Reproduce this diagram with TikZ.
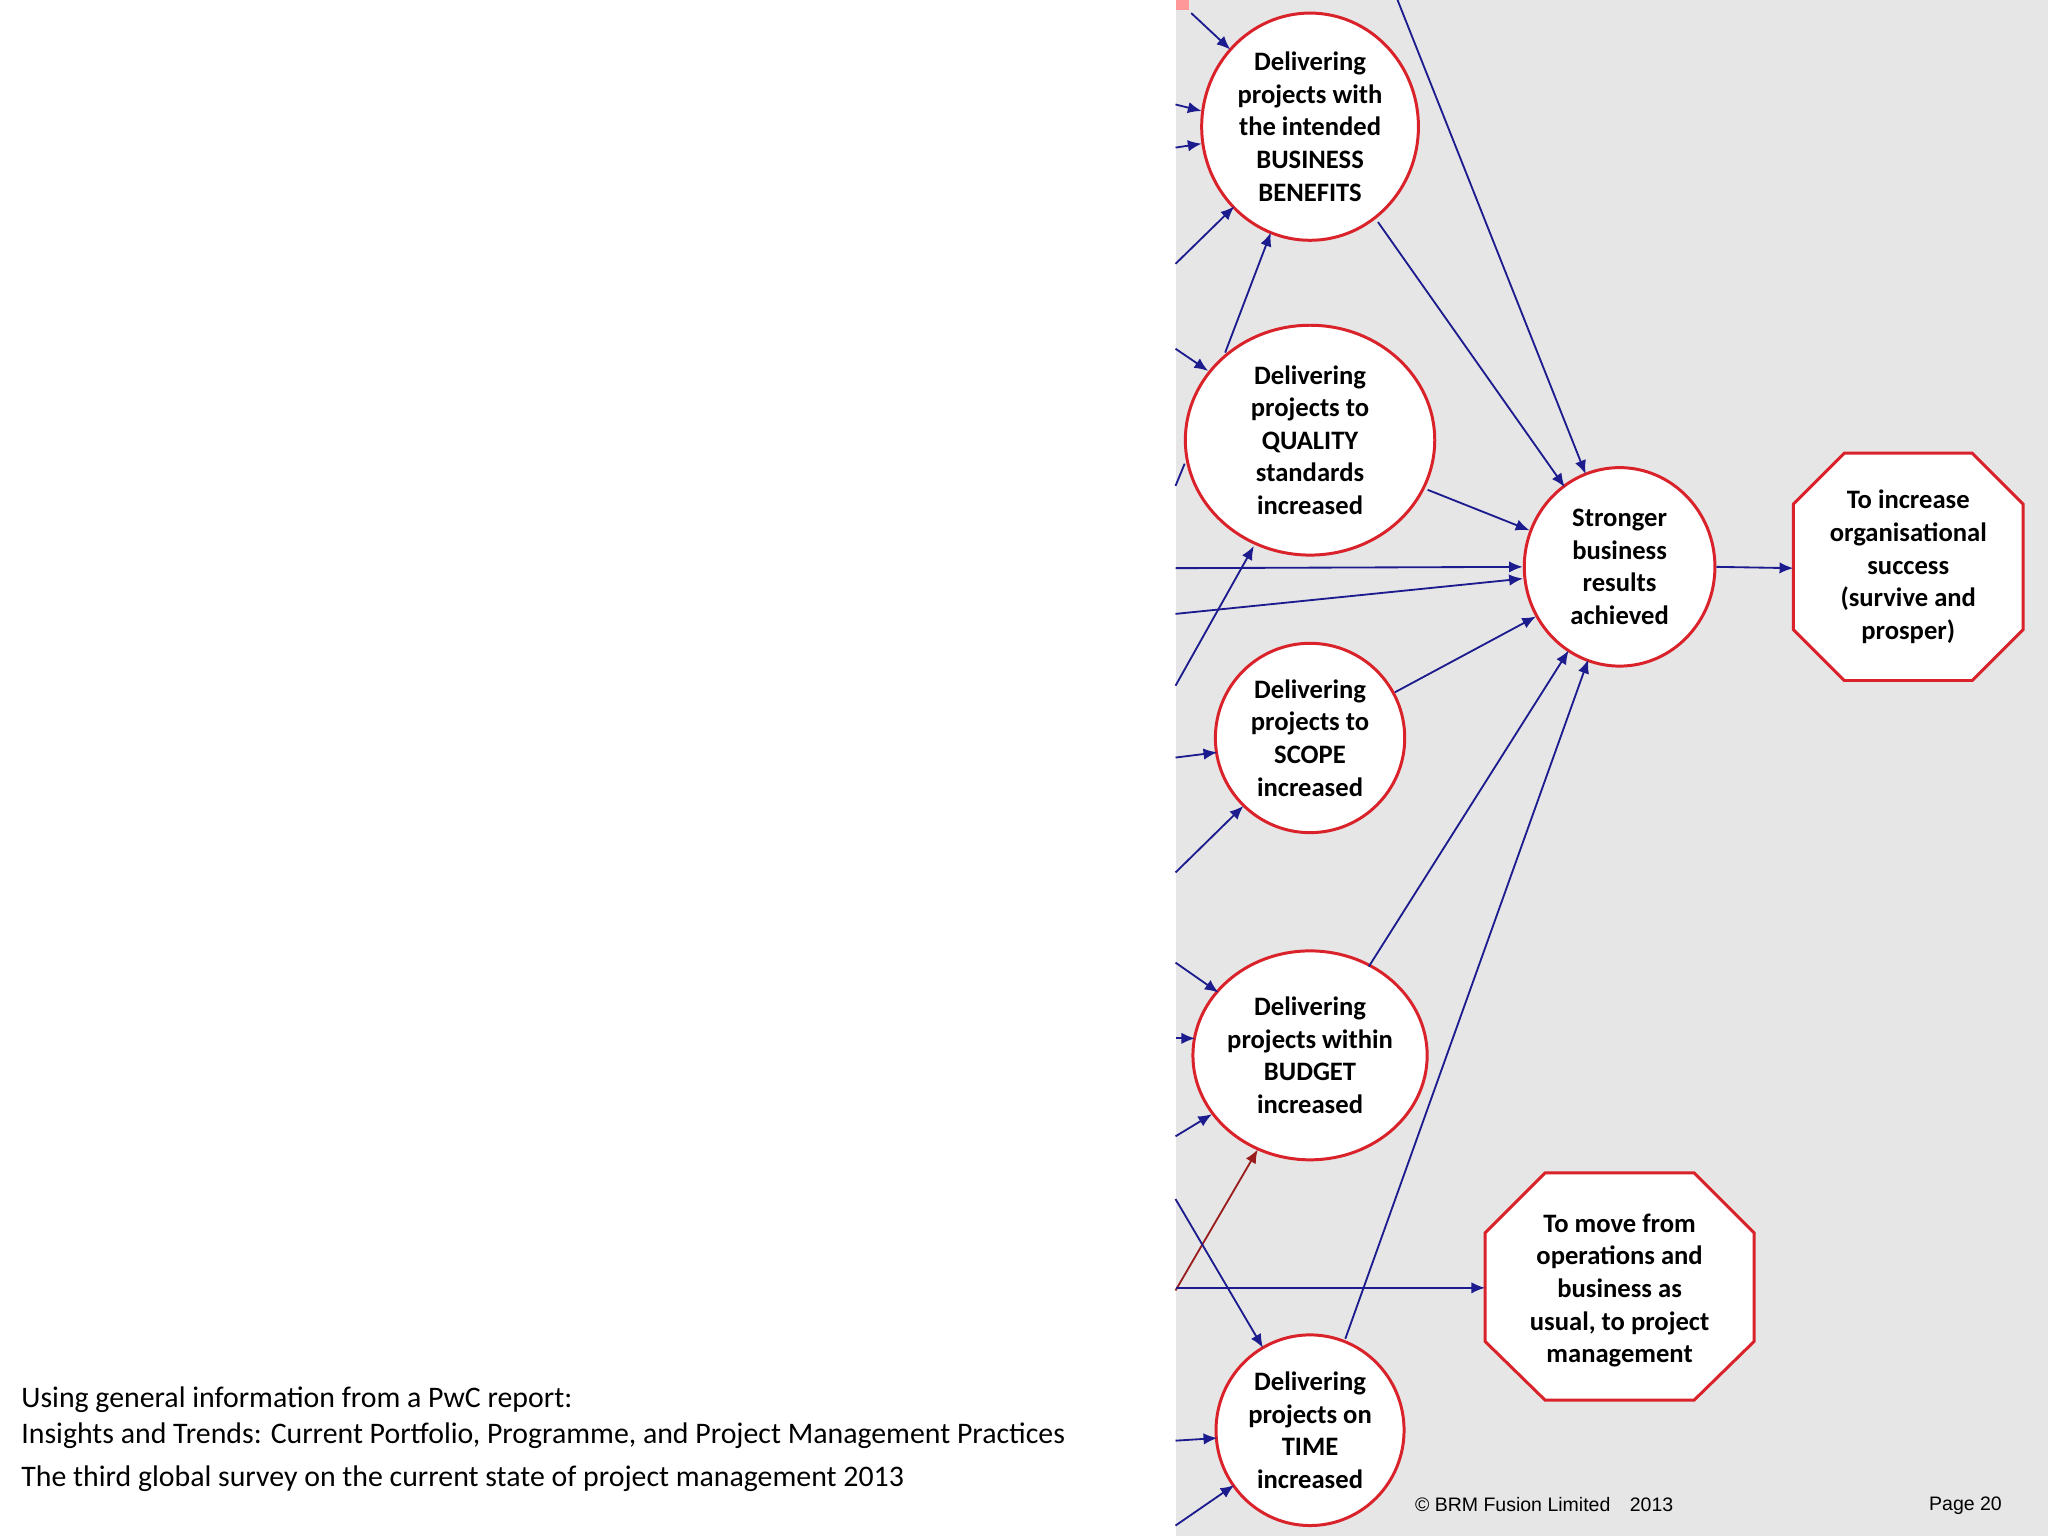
\documentclass[tikz,border=0pt]{standalone}
\usepackage{fontspec}
\setmainfont{Carlito}
\newfontfamily\arialf{Liberation Sans}
\usetikzlibrary{arrows.meta,shapes.geometric}
\definecolor{nav}{HTML}{1C1C8E}
\definecolor{dred}{HTML}{9A1E1E}
\definecolor{bord}{HTML}{D9222A}
\definecolor{panel}{HTML}{E6E6E6}
\tikzset{
 x=0.02cm,y=-0.02cm,
 circ/.style={ellipse,draw=bord,line width=1.3pt,fill=white,align=center,font=\bfseries\fontsize{11.6}{14.2}\selectfont,inner sep=0pt},
 oct/.style={draw=bord,line width=1.3pt,fill=white},
 octtext/.style={align=center,font=\bfseries\fontsize{11.6}{14.2}\selectfont},
 ar/.style={draw=nav,line width=0.8pt,-{Latex[length=6pt,width=5pt]}},
 arr/.style={draw=dred,line width=0.8pt,-{Latex[length=6pt,width=5pt]}},
}
\begin{document}
\begin{tikzpicture}
\useasboundingbox (0,0) rectangle (1568,1176);
\fill[white] (0,0) rectangle (1568,1176);
\fill[panel] (900,0) rectangle (1568,1176);
\fill[red!40] (900,0) rectangle (910,8);
\foreach \n/\x/\y in {a1/912/10,a2/900/80,a3/900/113,a4/900/202,a5/900/267,a6/900/435,a7/900/470,a8/900/525,a9/900/580,a10/900/668,a11/900/737,a12/900/795,a13/900/870,a14/900/988,a15/900/986,a16/900/918,a17/900/1103,a18/900/1168,a19/1070/0,a20/900/372,a21/907/355,
  e1/942/38,e2/920/85,e3/920/110,e4/945/158,e5/925/284,e8/960/418,e9/932/576,e10/952/617,e11/933/760,e12/915/795,e13/928/853,e14/963/880,e16/967/1032,e17/932/1101,e18/945/1137,
  s1/938/270,t1/973/178,s2/1055/170,t2/1198/373,s3/1093/375,t3/1171/406,s4/1068/530,t4/1176/472,s5/1048/740,t5/1201/498,s6/1030/1025,t6/1216/505,t19/1214/363,t7/1166/443}
  \coordinate (\n) at (\x,\y);
\path[oct] (1412,347)--(1510,347)--(1549,386)--(1549,482)--(1510,521)--(1412,521)--(1373,482)--(1373,386)--cycle;
\node[octtext] (O1) at (1461,434) {To increase\\organisational\\success\\(survive and\\prosper)};
\coordinate (O1w) at (1373,435);
\path[oct] (1183,898)--(1297,898)--(1343,944)--(1343,1027)--(1297,1072)--(1183,1072)--(1137,1027)--(1137,944)--cycle;
\node[octtext] (O2) at (1240,988) {To move from\\operations and\\business as\\usual, to project\\management};
\coordinate (O2w) at (1137,986);
\node[circ,minimum width=3.32cm,minimum height=3.48cm] (BBc) at (1003,97) {Delivering\\projects with\\the intended\\BUSINESS\\BENEFITS};
\node[circ,minimum width=3.82cm,minimum height=3.52cm] (Q) at (1003,337) {Delivering\\projects to\\QUALITY\\standards\\increased};
\node[circ,minimum width=2.9cm,minimum height=2.9cm] (S) at (1003,565) {Delivering\\projects to\\SCOPE\\increased};
\node[circ,minimum width=3.56cm,minimum height=3.2cm] (B) at (1003,808) {Delivering\\projects within\\BUDGET\\increased};
\node[circ,minimum width=2.88cm,minimum height=2.92cm] (T) at (1003,1095) {Delivering\\projects on\\TIME\\increased};
\node[circ,minimum width=2.92cm,minimum height=3.04cm] (R) at (1240,434) {Stronger\\business\\results\\achieved};
\draw[ar] (a1) -- (e1);
\draw[ar] (a2) -- (e2);
\draw[ar] (a3) -- (e3);
\draw[ar] (a4) -- (e4);
\draw[ar] (s1) -- (t1);
\draw[ar] (a5) -- (e5);
\draw[draw=nav,line width=0.8pt] (a20) -- (a21);
\draw[ar] (a6) -- (R.west);
\draw[ar] (a7) -- (t7);
\draw[ar] (a8) -- (e8);
\draw[ar] (a9) -- (e9);
\draw[ar] (a10) -- (e10);
\draw[ar] (a11) -- (e11);
\draw[ar] (a12) -- (e12);
\draw[ar] (a13) -- (e13);
\draw[arr] (a14) -- (e14);
\draw[ar] (a15) -- (O2w);
\draw[ar] (a16) -- (e16);
\draw[ar] (a17) -- (e17);
\draw[ar] (a18) -- (e18);
\draw[ar] (a19) -- (t19);
\draw[ar] (s2) -- (t2);
\draw[ar] (s3) -- (t3);
\draw[ar] (s4) -- (t4);
\draw[ar] (s5) -- (t5);
\draw[ar] (s6) -- (t6);
\draw[ar] (R.east) -- (O1w);
\node[anchor=west,font=\fontsize{13}{15}\selectfont,inner sep=0pt] (x1) at (16,1072) {Using general information from a PwC report:};
\node[anchor=west,font=\fontsize{13}{15}\selectfont,inner sep=0pt] (x2) at (16,1099) {Insights and Trends: Current Portfolio, Programme, and Project Management Practices};
\node[anchor=west,font=\fontsize{13}{15}\selectfont,inner sep=0pt] (x3) at (16,1132) {The third global survey on the current state of project management 2013};
\node[anchor=west,font=\arialf\fontsize{8.5}{10}\selectfont,inner sep=0pt] (f1) at (1083,1152) {© BRM Fusion Limited\quad 2013};
\node[anchor=east,font=\arialf\fontsize{8.5}{10}\selectfont,inner sep=0pt] (f2) at (1533,1153) {Page 20};
\end{tikzpicture}
\end{document}
